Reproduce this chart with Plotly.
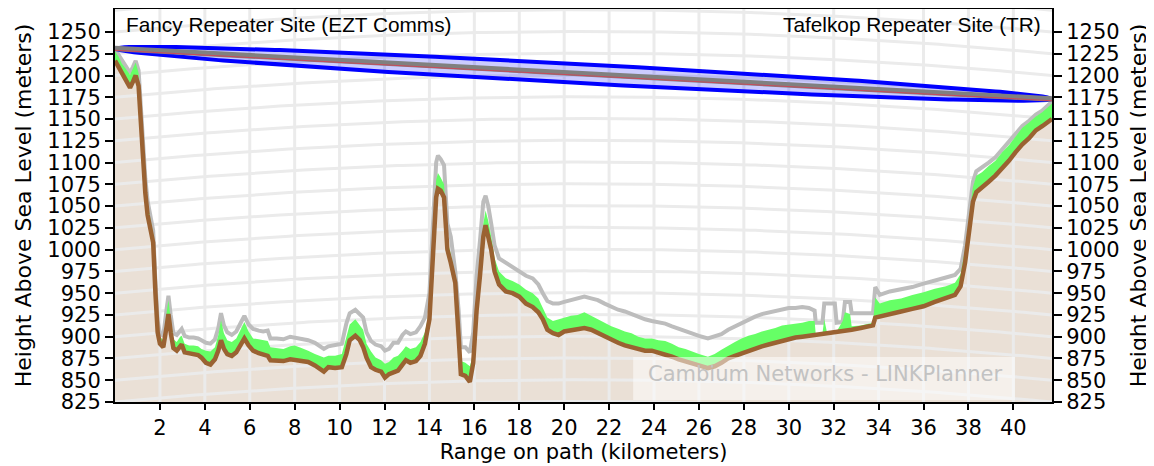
import numpy as np
import plotly.graph_objects as go

# ---------------- data (displayed heights, metres) ----------------
path_km = [0.00, 0.15, 0.30, 0.50, 0.67, 0.80, 0.92, 1.05, 1.20, 1.35, 1.45, 1.56, 1.70, 1.80, 1.90,
           2.00, 2.15, 2.30, 2.38, 2.48, 2.60, 2.75, 2.90, 2.97, 3.10, 3.30, 3.50, 3.70, 3.85, 4.05,
           4.25, 4.45, 4.60, 4.72, 4.85, 5.00, 5.20, 5.40, 5.60, 5.76, 5.95, 6.15, 6.40, 6.60, 6.80,
           6.92, 7.20, 7.50, 7.80, 8.00, 8.30, 8.60, 8.90, 9.15, 9.30, 9.50, 9.80, 10.10, 10.30, 10.45,
           10.70, 10.90, 11.05, 11.20, 11.40, 11.60, 11.85, 12.02, 12.20, 12.40, 12.60, 12.80, 12.95, 13.15, 13.40,
           13.60, 13.80, 14.00, 14.15, 14.30, 14.38, 14.50, 14.65, 14.80, 14.95, 15.15, 15.30, 15.40, 15.60, 15.80,
           15.95, 16.10, 16.25, 16.40, 16.50, 16.62, 16.75, 16.90, 17.10, 17.40, 17.70, 18.00, 18.30, 18.60, 18.85,
           19.05, 19.25, 19.50, 19.75, 20.00, 20.30, 20.60, 20.90, 21.20, 21.50, 21.80, 22.10, 22.40, 22.70, 23.00,
           23.30, 23.60, 23.90, 24.20, 24.50, 24.80, 25.10, 25.40, 25.70, 26.00, 26.40, 26.70, 27.00, 27.30, 27.60,
           27.90, 28.20, 28.50, 28.80, 29.10, 29.40, 29.70, 30.00, 30.30, 30.60, 30.90, 31.15, 31.20, 31.50, 31.58,
           31.70, 32.05, 32.13, 32.40, 32.50, 32.73, 32.80, 33.20, 33.75, 33.85, 34.05, 34.50, 35.00, 35.50, 36.00,
           36.50, 37.00, 37.40, 37.65, 37.85, 38.05, 38.20, 38.35, 38.60, 38.90, 39.20, 39.50, 39.80, 40.10, 40.40,
           40.70, 41.00, 41.30, 41.72]

terrain_m = [1217, 1210, 1203, 1195, 1186, 1193, 1200, 1188, 1120, 1065, 1040, 1026, 1008, 950, 905,
             892, 888, 912, 926, 905, 887, 884, 890, 891, 882, 881, 880, 879, 876, 870,
             868, 874, 884, 896, 886, 880, 878, 882, 891, 898, 890, 884, 881, 880, 878,
             873, 873, 872, 874, 873, 872, 871, 867, 863, 860, 865, 864, 865, 880, 896,
             901, 896, 888, 876, 865, 862, 860, 853, 857, 859, 861, 868, 873, 870, 872,
             878, 892, 920, 990, 1060, 1070, 1068, 1060, 1000, 985, 962, 900, 857, 855, 848,
             870, 930, 970, 1015, 1028, 1015, 1000, 975, 960, 952, 950, 946, 938, 934, 928,
             920, 908, 904, 902, 906, 907, 908, 910, 908, 904, 900, 897, 893, 890, 888,
             885, 884, 884, 882, 880, 877, 874, 872, 870, 867, 864, 866, 870, 875, 878,
             881, 884, 887, 889, 891, 893, 896, 898, 899, 900, 901, 902, 902, 903, 903,
             904, 905, 905, 906, 906, 907, 908, 910, 913, 922, 923, 926, 929, 932, 935,
             940, 944, 948, 958, 985, 1025, 1055, 1066, 1071, 1078, 1085, 1093, 1102, 1112, 1121,
             1128, 1137, 1142, 1150]

clutter_top_m = [1228, 1222, 1214, 1207, 1201, 1208, 1215, 1203, 1135, 1078, 1052, 1036, 1018, 960, 914,
                 900, 896, 928, 942, 920, 897, 894, 900, 901, 892, 890, 890, 889, 886, 884,
                 883, 888, 902, 919, 904, 896, 894, 898, 908, 917, 906, 898, 897, 896, 895,
                 888, 887, 886, 889, 890, 887, 884, 880, 877, 876, 878, 878, 880, 900, 914,
                 920, 913, 908, 892, 883, 876, 873, 869, 871, 876, 878, 884, 889, 886, 888,
                 894, 905, 930, 1000, 1080, 1088, 1083, 1075, 1010, 995, 970, 910, 872, 870, 866,
                 880, 940, 982, 1030, 1045, 1033, 1015, 990, 975, 967, 964, 960, 954, 950, 944,
                 932, 922, 918, 920, 922, 924, 925, 928, 924, 920, 916, 912, 909, 906, 904,
                 900, 898, 898, 896, 895, 892, 888, 886, 883, 880, 877, 880, 885, 890, 894,
                 898, 901, 903, 906, 908, 910, 913, 914, 915, 916, 918, 918, 903, 904, 920,
                 905, 906, 906, 918, 928, 926, 912, 913, 916, 945, 938, 942, 944, 948, 951,
                 955, 958, 962, 972, 1000, 1045, 1072, 1085, 1089, 1096, 1102, 1112, 1120, 1130, 1140,
                 1146, 1153, 1158, 1168]

obstruction_m = [1230, 1224, 1216, 1209, 1203, 1210, 1217, 1206, 1140, 1082, 1056, 1040, 1022, 964, 918,
                 904, 901, 932, 947, 925, 904, 902, 908, 909, 901, 899, 899, 898, 896, 893,
                 892, 897, 910, 927, 913, 905, 902, 906, 916, 924, 914, 909, 907, 906, 907,
                 898, 898, 897, 900, 899, 897, 896, 893, 889, 886, 889, 890, 892, 915, 927,
                 931, 926, 922, 905, 895, 891, 889, 884, 886, 893, 893, 902, 906, 903, 905,
                 912, 922, 950, 1020, 1100, 1108, 1104, 1097, 1030, 1015, 975, 930, 888, 888, 882,
                 905, 970, 1010, 1055, 1062, 1050, 1030, 1005, 990, 985, 981, 976, 970, 967, 960,
                 950, 941, 938, 938, 940, 942, 943, 946, 944, 942, 938, 934, 931, 929, 926,
                 922, 920, 918, 917, 915, 912, 909, 906, 904, 901, 898, 900, 903, 908, 912,
                 916, 920, 923, 926, 928, 930, 932, 933, 933, 934, 933, 930, 916, 916, 938,
                 938, 938, 916, 917, 940, 940, 927, 927, 927, 957, 948, 952, 954, 957, 961,
                 965, 968, 971, 978, 1005, 1050, 1078, 1090, 1094, 1100, 1106, 1115, 1124, 1133, 1142,
                 1148, 1155, 1160, 1170]

site_left = "Fancy Repeater Site (EZT Comms)"
site_right = "Tafelkop Repeater Site (TR)"
watermark = "Cambium Networks - LINKPlanner"
y_title = "Height Above Sea Level (meters)"
x_title = "Range on path (kilometers)"

tx_height_m = 1231
rx_height_m = 1173
fresnel_radius_mid_m = 11
path_length_km = 41.72
k_factor = 4 / 3
earth_radius_km = 6371

y_tick_vals = list(range(825, 1251, 25))
x_tick_vals = list(range(2, 41, 2))
grid_heights = list(range(800, 1301, 25))

Y_RANGE = [825, 1276.4]
X_RANGE = [0, path_length_km]

# ---------------- derived geometry ----------------
L = path_length_km
dd = np.linspace(0, L, 200)
bulge = dd * (L - dd) / (2 * k_factor * earth_radius_km) * 1000.0

gx, gy = [], []
for h in grid_heights:
    gx += list(dd) + [None]
    gy += list(h + bulge) + [None]
for xv in x_tick_vals:
    gx += [xv, xv, None]
    gy += [Y_RANGE[0] - 50, Y_RANGE[1] + 50, None]

los = tx_height_m + (rx_height_m - tx_height_m) * dd / L
rad = fresnel_radius_mid_m * np.sqrt(dd * (L - dd)) / (L / 2)
ell_x = list(dd) + list(dd[::-1])
ell_y = list(los + rad) + list((los - rad)[::-1])

fig = go.Figure()

# terrain fill
fig.add_trace(go.Scatter(x=path_km, y=terrain_m, mode="lines", line=dict(width=0, color="#eae0d6"),
                         fill="tozeroy", fillcolor="#eae0d6", hoverinfo="skip", showlegend=False))
# curved grid
fig.add_trace(go.Scatter(x=gx, y=gy, mode="lines", line=dict(color="#ebebeb", width=3),
                         hoverinfo="skip", showlegend=False, connectgaps=False))
# obstruction (grey)
fig.add_trace(go.Scatter(x=path_km, y=obstruction_m, mode="lines", line=dict(color="#bdbdbd", width=4),
                         hoverinfo="skip", showlegend=False))
# green clutter band
fig.add_trace(go.Scatter(x=path_km, y=terrain_m, mode="lines", line=dict(width=0, color="#66ff66"),
                         hoverinfo="skip", showlegend=False))
fig.add_trace(go.Scatter(x=path_km, y=clutter_top_m, mode="lines", line=dict(width=0, color="#66ff66"),
                         fill="tonexty", fillcolor="#66ff66", hoverinfo="skip", showlegend=False))
# terrain line
fig.add_trace(go.Scatter(x=path_km, y=terrain_m, mode="lines", line=dict(color="#9a6232", width=4.5),
                         hoverinfo="skip", showlegend=False))
# fresnel ellipse
fig.add_trace(go.Scatter(x=ell_x, y=ell_y, mode="lines", fill="toself", fillcolor="rgba(0,0,255,0.2)",
                         line=dict(color="#0000ff", width=4), hoverinfo="skip", showlegend=False))
# line of sight
fig.add_trace(go.Scatter(x=[0, L], y=[tx_height_m, rx_height_m], mode="lines",
                         line=dict(color="#808080", width=5.5), hoverinfo="skip", showlegend=False))
fig.add_trace(go.Scatter(x=[0, L], y=[tx_height_m - 2, rx_height_m - 2], mode="lines",
                         line=dict(color="rgba(220,60,80,0.8)", width=1), hoverinfo="skip", showlegend=False))
# dummy for right axis
fig.add_trace(go.Scatter(x=[0], y=[900], yaxis="y2", mode="markers", marker=dict(opacity=0),
                         hoverinfo="skip", showlegend=False))

font_main = "DejaVu Sans"
axis_common = dict(showgrid=False, zeroline=False, showline=True, linecolor="black", linewidth=2,
                   ticks="outside", tickwidth=2, tickcolor="black",
                   tickfont=dict(family=font_main, size=21, color="black"))

fig.update_layout(
    width=1146, height=458,
    margin=dict(l=107, r=102, t=1, b=64, autoexpand=False),
    paper_bgcolor="white", plot_bgcolor="white",
    xaxis=dict(range=X_RANGE, tickvals=x_tick_vals, mirror=True, ticklen=6,
               title=dict(text=x_title, font=dict(family=font_main, size=21, color="black"), standoff=4),
               **axis_common),
    yaxis=dict(range=Y_RANGE, tickvals=y_tick_vals, ticklen=8,
               title=dict(text=y_title, font=dict(family=font_main, size=22, color="black"), standoff=10),
               **axis_common),
    yaxis2=dict(range=Y_RANGE, tickvals=y_tick_vals, overlaying="y", side="right", ticklen=8,
                title=dict(text=y_title, font=dict(family=font_main, size=22, color="black"), standoff=12),
                **axis_common),
    shapes=[dict(type="rect", xref="paper", yref="paper", x0=0.553, x1=0.9605, y0=0.005, y1=0.1145,
                 fillcolor="rgba(255,255,255,0.5)", line=dict(width=0), layer="above")],
    annotations=[
        dict(text=site_left, xref="paper", yref="paper", x=0.0096, y=0.995, xanchor="left", yanchor="top",
             showarrow=False, font=dict(family="Liberation Sans", size=20.8, color="black")),
        dict(text=site_right, xref="paper", yref="paper", x=0.99, y=0.995, xanchor="right", yanchor="top",
             showarrow=False, font=dict(family="Liberation Sans", size=20.8, color="black")),
        dict(text=watermark, xref="paper", yref="paper", x=0.7577, y=0.071, xanchor="center", yanchor="middle",
             showarrow=False, font=dict(family=font_main, size=21, color="#c2c2c2")),
    ],
)

fig.write_html("out.html")
